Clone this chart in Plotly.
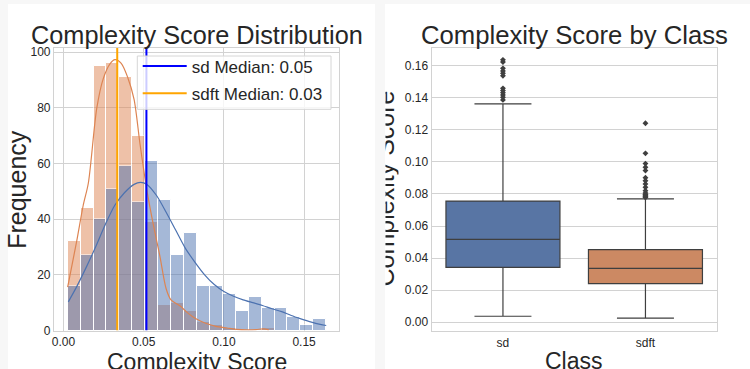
import numpy as np
import plotly.graph_objects as go

W, H = 750, 369

# ---------------- data ----------------
BIN_MIN, BIN_MAX, N_BINS = 0.0026, 0.1638, 20
sd_counts = [16, 27, 40, 51, 59, 46, 61, 47, 27, 35, 16, 16, 13, 7, 12, 8, 8, 5, 2, 4]
sdft_counts = [32, 44, 95, 96, 91, 70, 39, 9, 10, 7, 3, 2, 1, 0, 0, 1, 0, 0, 0, 0]

sd_kde_x = [0.0030, 0.0080, 0.0140, 0.0200, 0.0260, 0.0320, 0.0380, 0.0440, 0.0480,
            0.0520, 0.0580, 0.0640, 0.0700, 0.0760, 0.0820, 0.0880, 0.0940, 0.1000,
            0.1060, 0.1120, 0.1180, 0.1240, 0.1300, 0.1360, 0.1420, 0.1480, 0.1540,
            0.1600, 0.1638]
sd_kde_y = [10.3, 15.5, 22.5, 30.0, 38.0, 45.0, 49.5, 52.5, 53.2,
            52.5, 48.5, 42.5, 36.0, 29.5, 24.5, 20.0, 16.5, 14.0,
            12.3, 11.0, 10.0, 9.0, 7.8, 6.8, 5.4, 4.2, 3.1,
            2.2, 1.8]

sdft_kde_x = [0.0026, 0.0082, 0.0123, 0.0155, 0.0207, 0.0248, 0.0290, 0.0321, 0.0360,
              0.0400, 0.0440, 0.0477, 0.0519, 0.0560, 0.0600, 0.0640, 0.0670, 0.0700,
              0.0730, 0.0770, 0.0810, 0.0850, 0.0890, 0.0950, 0.1020, 0.1080, 0.1140,
              0.1200, 0.1246, 0.1280]
sdft_kde_y = [15.6, 32.0, 45.0, 53.0, 79.7, 90.5, 95.8, 97.3, 96.0,
              91.0, 83.0, 67.0, 50.7, 38.0, 27.0, 15.0, 11.0, 9.8,
              8.7, 6.5, 4.8, 3.5, 2.5, 1.5, 0.9, 0.4, 0.2,
              0.3, 0.6, 0.2]

sd_median = 0.0517
sdft_median = 0.0335

classes = ["sd", "sdft"]
box_q1 = [0.0342, 0.0240]
box_median = [0.0517, 0.0335]
box_q3 = [0.0756, 0.0452]
box_low = [0.0036, 0.0025]
box_high = [0.1363, 0.0769]
sd_outliers = [0.1388, 0.1404, 0.1419, 0.1433, 0.1446, 0.1460,
               0.1538, 0.1554, 0.1569, 0.1585, 0.1625, 0.1638]
sdft_outliers = [0.0778, 0.0783, 0.0788, 0.0793, 0.0797, 0.0806, 0.0821, 0.0842,
                 0.0863, 0.0883, 0.0902, 0.0946, 0.0967, 0.0990, 0.1054, 0.1242]
outliers = [sd_outliers, sdft_outliers]

x_ticks_left = [0.00, 0.05, 0.10, 0.15]
y_ticks_left = [0, 20, 40, 60, 80, 100]
y_ticks_right = [0.00, 0.02, 0.04, 0.06, 0.08, 0.10, 0.12, 0.14, 0.16]

# ---------------- style ----------------
FONT = "Liberation Sans, Arial, sans-serif"
TXT = "#262626"
GRID = "#d2d2d2"
BLUE = "#4c72b0"
ORANGE = "#dd8452"
BOX_COLORS = ["#5875a4", "#cc8963"]
BOX_LINE = "#3f3f3f"
BG = "#f7f7f7"


def fx(px):
    return px / W


def fy(px):
    return 1 - px / H


edges = np.linspace(BIN_MIN, BIN_MAX, N_BINS + 1)
centers = (edges[:-1] + edges[1:]) / 2
bw = edges[1] - edges[0]

LEFT_Y_TOP = 101.5

fig = go.Figure()

# histogram bars (orange first, blue drawn on top)
fig.add_trace(go.Bar(x=centers, y=sdft_counts, width=bw,
                     marker=dict(color=ORANGE, opacity=0.5, line=dict(color="white", width=1)),
                     showlegend=False, xaxis="x", yaxis="y"))
fig.add_trace(go.Bar(x=centers, y=sd_counts, width=bw,
                     marker=dict(color=BLUE, opacity=0.5, line=dict(color="white", width=1)),
                     showlegend=False, xaxis="x", yaxis="y"))
# kde curves
fig.add_trace(go.Scatter(x=sdft_kde_x, y=sdft_kde_y, mode="lines",
                         line=dict(color=ORANGE, width=1.2, shape="spline", smoothing=0.8),
                         showlegend=False, xaxis="x", yaxis="y"))
fig.add_trace(go.Scatter(x=sd_kde_x, y=sd_kde_y, mode="lines",
                         line=dict(color=BLUE, width=1.2, shape="spline", smoothing=0.8),
                         showlegend=False, xaxis="x", yaxis="y"))
# medians
fig.add_trace(go.Scatter(x=[sd_median, sd_median], y=[0, LEFT_Y_TOP], mode="lines",
                         line=dict(color="blue", width=2), legendgroup="sd",
                         name=f"sd Median: {sd_median:.2f}", xaxis="x", yaxis="y"))
fig.add_trace(go.Scatter(x=[sdft_median, sdft_median], y=[0, LEFT_Y_TOP], mode="lines",
                         line=dict(color="orange", width=2), legendgroup="sdft",
                         name=f"sdft Median: {sdft_median:.2f}", xaxis="x", yaxis="y"))

# box plots
for i, cls in enumerate(classes):
    fig.add_trace(go.Box(x=[cls], q1=[box_q1[i]], median=[box_median[i]], q3=[box_q3[i]],
                         lowerfence=[box_low[i]], upperfence=[box_high[i]],
                         fillcolor=BOX_COLORS[i], line=dict(color=BOX_LINE, width=1.2),
                         width=0.8, whiskerwidth=0.5, boxpoints=False,
                         showlegend=False, xaxis="x2", yaxis="y2", hoverinfo="skip"))
    fig.add_trace(go.Scatter(x=[cls] * len(outliers[i]), y=outliers[i], mode="markers",
                             marker=dict(symbol="diamond", size=4.5, color=BOX_LINE),
                             showlegend=False, xaxis="x2", yaxis="y2"))

axis_common = dict(showgrid=True, gridcolor=GRID, gridwidth=1, zeroline=False,
                   showline=True, linecolor=GRID, linewidth=1.2, mirror=True,
                   automargin=False,
                   ticks="", tickfont=dict(family=FONT, size=12, color=TXT))

fig.update_layout(
    width=W, height=H,
    margin=dict(l=0, r=0, t=0, b=0, autoexpand=False),
    paper_bgcolor=BG, plot_bgcolor="white",
    barmode="overlay", bargap=0,
    font=dict(family=FONT, color=TXT),
    xaxis=dict(domain=[fx(54), fx(339)], range=[-0.00592, 0.17176],
               tickvals=x_ticks_left, tickformat=".2f", anchor="y", **axis_common),
    yaxis=dict(domain=[fy(330.5), fy(48)], range=[0, LEFT_Y_TOP],
               tickvals=y_ticks_left, anchor="x", **axis_common),
    xaxis2=dict(domain=[fx(431.7), fx(716.7)], range=[-0.5, 1.5], type="category",
                categoryorder="array", categoryarray=classes, anchor="y2",
                **{**axis_common, "showgrid": False}),
    yaxis2=dict(domain=[fy(331), fy(47.7)], range=[-0.0056, 0.1714],
                tickvals=y_ticks_right, tickformat=".2f", anchor="x2", **axis_common),
    legend=dict(x=fx(137.7), y=fy(48.5), xanchor="left", yanchor="top",
                bgcolor="rgba(0,0,0,0)", borderwidth=0, itemwidth=44, tracegroupgap=2,
                font=dict(family=FONT, size=17, color=TXT)),
    showlegend=True,
)

# white panels and legend frame
fig.add_shape(type="rect", xref="paper", yref="paper", x0=fx(8), x1=fx(375), y0=0, y1=fy(4),
              fillcolor="white", line=dict(width=0), layer="below")
fig.add_shape(type="rect", xref="paper", yref="paper", x0=fx(385), x1=1, y0=0, y1=fy(4),
              fillcolor="white", line=dict(width=0), layer="below")
fig.add_shape(type="rect", xref="paper", yref="paper", x0=fx(137.3), x1=fx(331), y0=fy(109.3), y1=fy(56),
              fillcolor="rgba(255,255,255,0.8)", line=dict(color="#d6d6d6", width=1), layer="above")

ann = []
ann.append(dict(text="Complexity Score Distribution", x=fx(196.5), y=fy(51), xanchor="center", yanchor="bottom",
                font=dict(size=25.3)))
ann.append(dict(text="Complexity Score by Class", x=fx(574), y=fy(51), xanchor="center", yanchor="bottom",
                font=dict(size=25.7)))
ann.append(dict(text="Complexity Score", x=fx(196.5), y=fy(347), xanchor="center", yanchor="top",
                font=dict(size=23)))
ann.append(dict(text="Class", x=fx(574), y=fy(346), xanchor="center", yanchor="top",
                font=dict(size=23)))
ann.append(dict(text="Frequency", x=fx(16.8), y=fy(189), xanchor="center", yanchor="middle",
                textangle=-90, font=dict(size=25)))
# right y title: only the lower part of the glyphs is visible (clipped at the panel edge)
ann.append(dict(text="Complexity Score", x=fx(391.5), y=fy(189), xanchor="center", yanchor="middle",
                textangle=-90, width=230, height=13, valign="bottom", borderpad=0,
                font=dict(size=25)))
for a in ann:
    a.update(xref="paper", yref="paper", showarrow=False)
    a.setdefault("font", {})
    a["font"].update(family=FONT, color=TXT)
fig.update_layout(annotations=ann)

fig.write_html("out.html", config={"displayModeBar": False},
               post_script="document.body.style.margin='0';document.body.style.overflow='hidden';")
